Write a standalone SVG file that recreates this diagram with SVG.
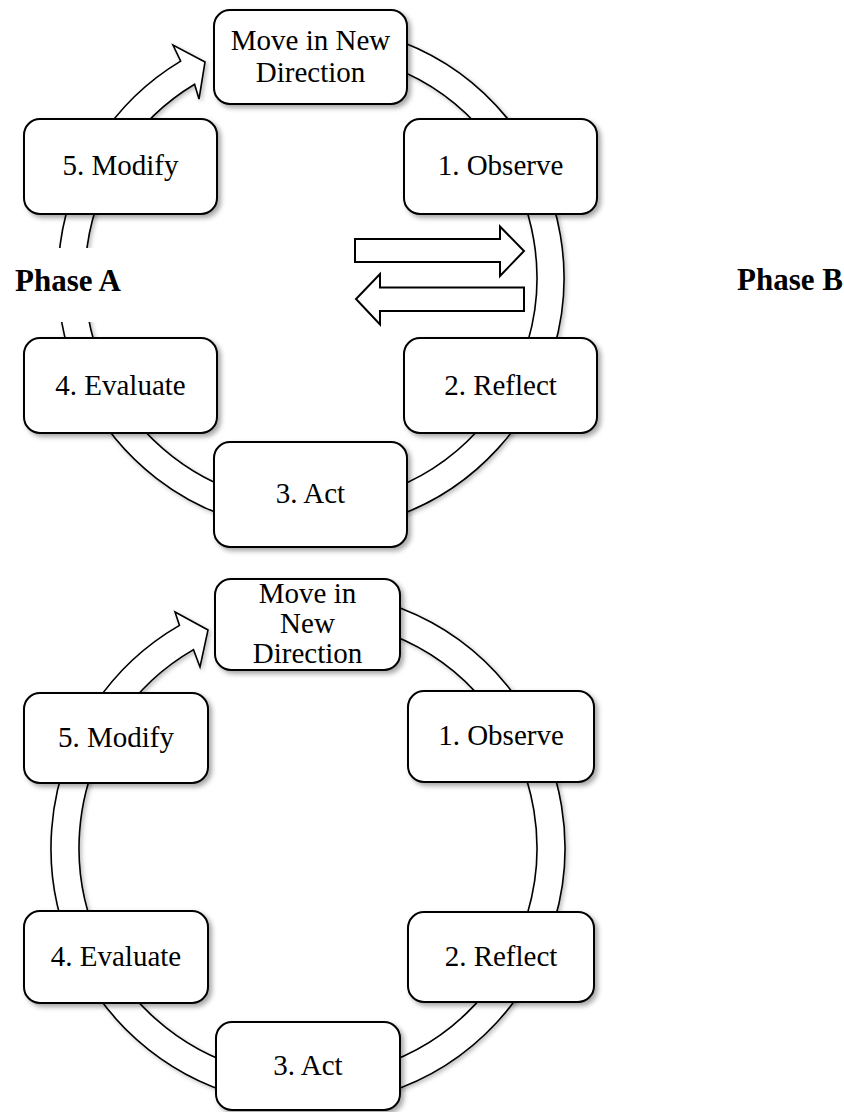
<svg xmlns="http://www.w3.org/2000/svg" width="844" height="1112" viewBox="0 0 844 1112">
<style>
.ring{fill:#fff;stroke:#000;stroke-width:1.6;filter:url(#sh2)}
.node rect{fill:#fff;stroke:#000;stroke-width:2;filter:url(#sh)}
.node text,.lbl{font-family:"Liberation Serif","Times New Roman",serif;fill:#000}
.node text{font-size:29px;text-anchor:middle}
.lbl{font-size:31px;font-weight:bold}
.dbl{fill:#fff;stroke:#000;stroke-width:2}
</style>
<defs>
<filter id="sh" x="-20%" y="-20%" width="140%" height="140%">
<feDropShadow dx="3" dy="3" stdDeviation="2.5" flood-color="#000" flood-opacity="0.35"/>
</filter>
<filter id="sh2" x="-10%" y="-10%" width="120%" height="120%">
<feDropShadow dx="2" dy="2" stdDeviation="2" flood-color="#000" flood-opacity="0.25"/>
</filter>
</defs>
<rect width="844" height="1112" fill="#fff"/>
<g id="connectors">
<path class="ring" d="M288.95 25.96 A253 253 0 1 1 180.70 61.14 L173 45 L205 62 L199 99 L194.60 84.28 A226 226 0 1 0 291.30 52.86 Z"/>
<path class="ring" d="M285.60 591.98 A257 257 0 1 1 179.50 625.43 L175 612 L208 630 L200 667 L193.50 649.68 A229 229 0 1 0 288.04 619.87 Z"/>
<path class="dbl" d="M355 239 L500 239 L500 226.5 L524 251 L500 276 L500 262 L355 262 Z"/>
<path class="dbl" d="M524 287.5 L380 287.5 L380 274 L356 299 L380 324.5 L380 311 L524 311 Z"/>
</g>
<g id="phaseA">
<rect x="0" y="248" width="140" height="74" fill="#fff"/>
<text class="lbl" x="15" y="291">Phase A</text>
</g>
<g id="phaseB">
<text class="lbl" x="737" y="290">Phase B</text>
</g>
<g id="top-move" class="node"><rect x="214" y="10" width="193" height="94" rx="16"/><text x="310.5" y="50">Move in New</text><text x="310.5" y="82">Direction</text></g>
<g id="top-modify" class="node"><rect x="24" y="119" width="193" height="95" rx="16"/><text x="120.5" y="175">5. Modify</text></g>
<g id="top-observe" class="node"><rect x="404" y="119" width="193" height="95" rx="16"/><text x="500.5" y="175">1. Observe</text></g>
<g id="top-evaluate" class="node"><rect x="24" y="338" width="193" height="95" rx="16"/><text x="120.5" y="394.5">4. Evaluate</text></g>
<g id="top-reflect" class="node"><rect x="404" y="338" width="193" height="95" rx="16"/><text x="500.5" y="394.5">2. Reflect</text></g>
<g id="top-act" class="node"><rect x="214" y="442" width="193" height="105" rx="16"/><text x="310.5" y="503">3. Act</text></g>
<g id="bot-move" class="node"><rect x="215" y="579" width="185" height="91" rx="16"/><text x="307.5" y="603">Move in</text><text x="307.5" y="633">New</text><text x="307.5" y="663">Direction</text></g>
<g id="bot-modify" class="node"><rect x="24" y="693" width="184" height="90" rx="16"/><text x="116" y="747">5. Modify</text></g>
<g id="bot-observe" class="node"><rect x="408" y="691" width="186" height="91" rx="16"/><text x="501" y="745">1. Observe</text></g>
<g id="bot-evaluate" class="node"><rect x="24" y="911" width="184" height="92" rx="16"/><text x="116" y="966">4. Evaluate</text></g>
<g id="bot-reflect" class="node"><rect x="408" y="912" width="186" height="90" rx="16"/><text x="501" y="966">2. Reflect</text></g>
<g id="bot-act" class="node"><rect x="216" y="1022" width="184" height="88" rx="16"/><text x="308" y="1075">3. Act</text></g>
</svg>
